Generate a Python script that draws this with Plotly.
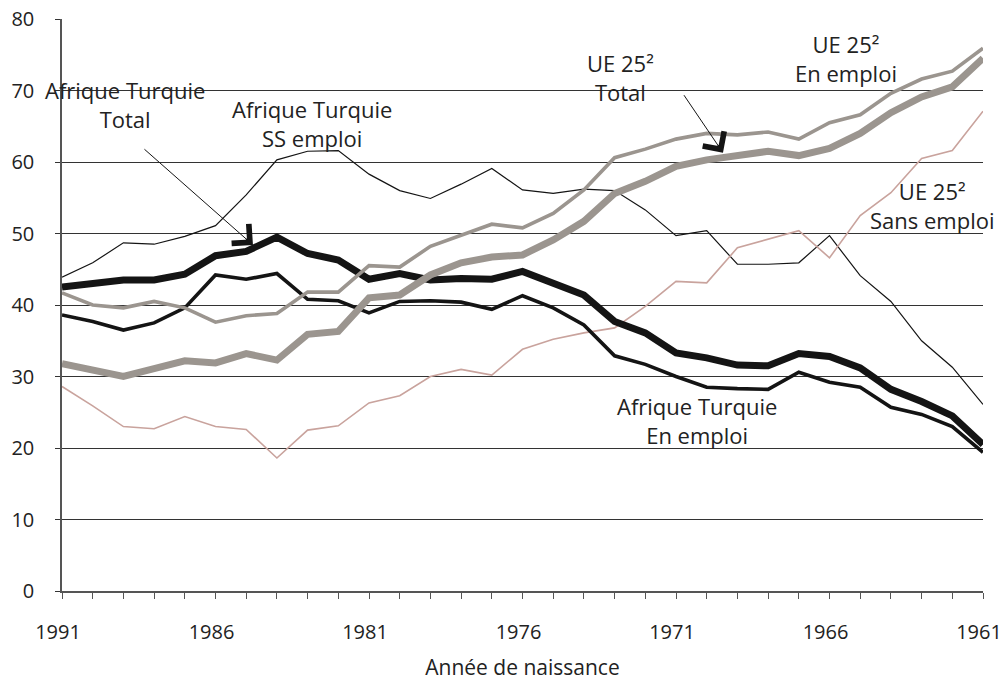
import plotly.graph_objects as go

years = list(range(1991, 1960, -1))

afrique_total = [42.5, 43.0, 43.5, 43.5, 44.3, 46.9, 47.5, 49.5, 47.2, 46.3,
                 43.6, 44.4, 43.5, 43.7, 43.6, 44.7, 43.1, 41.4, 37.7, 36.1,
                 33.3, 32.6, 31.6, 31.5, 33.2, 32.8, 31.2, 28.2, 26.5, 24.5, 20.5]

afrique_emploi = [38.6, 37.7, 36.5, 37.5, 39.6, 44.2, 43.6, 44.4, 40.8, 40.6,
                  38.9, 40.5, 40.6, 40.4, 39.4, 41.3, 39.6, 37.2, 32.9, 31.7,
                  30.0, 28.5, 28.3, 28.2, 30.6, 29.2, 28.5, 25.7, 24.7, 23.0, 19.4]

afrique_ss = [43.9, 45.9, 48.7, 48.5, 49.6, 51.1, 55.4, 60.3, 61.5, 61.6,
              58.3, 56.0, 54.9, 56.9, 59.1, 56.1, 55.6, 56.2, 56.0, 53.3,
              49.7, 50.4, 45.7, 45.7, 45.9, 49.7, 44.1, 40.5, 35.0, 31.3, 26.1]

ue_total = [31.8, 30.9, 30.0, 31.1, 32.2, 31.9, 33.2, 32.3, 35.9, 36.3,
            41.0, 41.4, 44.2, 45.9, 46.7, 47.0, 49.1, 51.7, 55.6, 57.3,
            59.4, 60.3, 60.9, 61.5, 60.9, 61.9, 64.0, 66.9, 69.1, 70.5, 74.5]

ue_emploi = [41.7, 40.0, 39.6, 40.5, 39.6, 37.6, 38.5, 38.8, 41.8, 41.8,
             45.5, 45.3, 48.2, 49.7, 51.3, 50.8, 52.8, 56.1, 60.6, 61.8,
             63.2, 64.0, 63.8, 64.2, 63.2, 65.5, 66.6, 69.6, 71.6, 72.7, 75.9]

ue_sans = [28.6, 25.9, 23.0, 22.7, 24.4, 23.0, 22.6, 18.6, 22.5, 23.1,
           26.3, 27.3, 30.0, 31.0, 30.2, 33.8, 35.2, 36.1, 36.8, 39.8,
           43.3, 43.1, 48.0, 49.2, 50.4, 46.6, 52.5, 55.7, 60.5, 61.6, 67.1]

tick_years = [1991, 1986, 1981, 1976, 1971, 1966, 1961]
y_ticks = [0, 10, 20, 30, 40, 50, 60, 70, 80]

BLACK = "#141414"
GREY = "#9b958f"
PINK = "#c9a39d"
FONT = "Open Sans"
TXT_COL = "#222222"

fig = go.Figure()
series = [
    ("Afrique Turquie SS emploi", afrique_ss, BLACK, 1.2),
    ("UE 25 Sans emploi", ue_sans, PINK, 1.6),
    ("Afrique Turquie En emploi", afrique_emploi, BLACK, 3.6),
    ("Afrique Turquie Total", afrique_total, BLACK, 7),
    ("UE 25 En emploi", ue_emploi, GREY, 3.6),
    ("UE 25 Total", ue_total, GREY, 7),
]
for name, vals, col, w in series:
    fig.add_trace(go.Scatter(x=years, y=vals, mode="lines", name=name,
                             line=dict(color=col, width=w), showlegend=False))

txt = dict(family=FONT, size=22, color=TXT_COL)
labels = [
    ("Afrique Turquie<br>Total", 1988.95, 68.0),
    ("Afrique Turquie<br>SS emploi", 1982.86, 65.4),
    ("UE 25²<br>Total", 1972.82, 71.8),
    ("UE 25²<br>En emploi", 1965.46, 74.5),
    ("UE 25²<br>Sans emploi", 1962.66, 53.9),
    ("Afrique Turquie<br>En emploi", 1970.32, 23.9),
]
for t, x, y in labels:
    fig.add_annotation(x=x, y=y, text=t, showarrow=False, font=txt,
                       xanchor="center", yanchor="middle", align="center")

arrows = [(1984.78, 48.4, -110, -97), (1969.47, 61.3, -40, -59)]
for x, y, ax, ay in arrows:
    fig.add_annotation(x=x, y=y, ax=ax, ay=ay, text="", showarrow=True,
                       arrowhead=4, arrowsize=5, arrowwidth=1, arrowcolor=BLACK)

fig.update_layout(
    width=1005, height=681,
    margin=dict(l=62, r=22, t=19, b=90),
    plot_bgcolor="white", paper_bgcolor="white",
    font=dict(family=FONT, size=20, color=TXT_COL),
)
fig.update_xaxes(
    range=[1991, 1961], tickvals=tick_years, ticktext=[str(v) for v in tick_years],
    automargin=False, ticklabeloverflow="allow",
    showgrid=False, zeroline=False, showline=True, linecolor="#555555", linewidth=1.5,
    ticks="outside", ticklen=6, tickcolor="#555555", tickwidth=1.2,
    minor=dict(ticks="outside", dtick=1, tick0=1961, ticklen=6, tickcolor="#555555", tickwidth=1.2, showgrid=False),
    ticklabelstandoff=16, ticklabelshift=4,
    tickfont=dict(family=FONT, size=20, color=TXT_COL),
    title=dict(text="Année de naissance", font=dict(family=FONT, size=21, color=TXT_COL), standoff=20),
)
fig.update_yaxes(
    range=[0, 80], tickvals=y_ticks, showgrid=True, gridcolor="#333333", gridwidth=1,
    automargin=False, ticklabeloverflow="allow",
    zeroline=False, showline=True, linecolor="#555555", linewidth=1.5,
    ticks="outside", ticklen=5, tickcolor="#333333", ticklabelstandoff=17,
    tickfont=dict(family=FONT, size=20, color=TXT_COL),
)

# remove the default 8px page margin so the figure fills the window exactly
fig.write_html("out.html", config={"displayModeBar": False},
               post_script="document.body.style.margin='0';document.body.style.overflow='hidden';")
